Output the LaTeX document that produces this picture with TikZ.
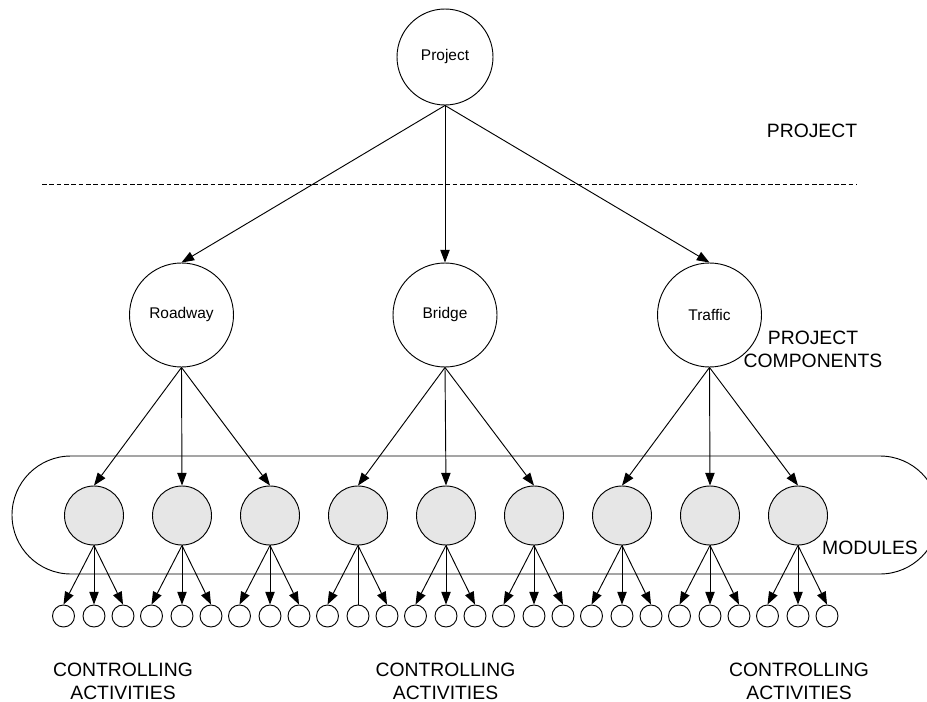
\documentclass[tikz,border=0pt]{standalone}
\usepackage{fontspec}
\setmainfont{Liberation Sans}
\usetikzlibrary{arrows.meta}
\definecolor{modgray}{RGB}{230,230,230}

\begin{document}
\begin{tikzpicture}[x=0.75pt,y=-0.75pt,>={Triangle[length=9.5pt,width=7pt]},line width=0.7pt,
  projnode/.style={draw, circle, inner sep=0pt, minimum size=72pt, font=\fontsize{11.6}{14}\selectfont},
  compnode/.style={draw, circle, inner sep=0pt, minimum size=78pt, font=\fontsize{11.6}{14}\selectfont},
  modnode/.style={draw, circle, fill=modgray, inner sep=0pt, minimum size=44.25pt},
  actnode/.style={draw, circle, inner sep=0pt, minimum size=16.5pt},
  tier/.style={inner sep=0pt, align=center, font=\fontsize{14.5}{17.25}\selectfont}]

  \useasboundingbox (0,0) rectangle (927,702);

%%%%%%%%%%%%%%%%%%%%%%%%%%%%%%%%%%%%%%%%%%
  % Modules band
  \begin{scope}
    \clip (0,0) rectangle (927,702);
    \draw[rounded corners=44.25pt] (12,456) rectangle (939,574);
  \end{scope}

  % Separator
  \draw[dashed, dash pattern=on 3.5pt off 2pt] (42,184) -- (857,184);

  % Project and components
  \node[projnode] (proj) at (445,57) {Project};
  \node[compnode] (road) at (181.5,315) {Roadway};
  \node[compnode] (bridge) at (445,315) {Bridge};
  \node[compnode] (traffic) at (709.5,315) {Traffic};

  % Modules and activities
  \foreach \k in {0,...,8} {
    \node[modnode] (m\k) at ({94+88*\k},515.5) {};
    \node[actnode] (a\k-1) at ({94+88*\k-30.5},616) {};
    \node[actnode] (a\k-2) at ({94+88*\k},616) {};
    \node[actnode] (a\k-3) at ({94+88*\k+29},616) {};
  }

  % Connectors
  \foreach \c in {road,bridge,traffic}
    \draw[->] (proj.south) -- (\c.north);
  \foreach \c/\k in {road/0,road/1,road/2,bridge/3,bridge/4,bridge/5,traffic/6,traffic/7,traffic/8}
    \draw[->] (\c.south) -- (m\k.north);
  \foreach \k/\j in {0/1,0/2,0/3,1/1,1/2,1/3,2/1,2/2,2/3,3/1,3/3,4/1,4/2,4/3,
                     5/1,5/2,5/3,6/1,6/2,6/3,7/1,7/2,7/3,8/1,8/2,8/3}
    \draw[->] (m\k.south) -- (a\k-\j.north);
  \draw (m3.south) -- (a3-2.north);

  % Level labels
  \node[tier] (lproj) at (812,131) {PROJECT};
  \node[tier] (lcomp) at (813,349.5) {PROJECT\\COMPONENTS};
  \node[tier] (lmod) at (870,548) {MODULES};
  \foreach \x [count=\n] in {123,445.5,799}
    \node[tier] (lact\n) at (\x,681) {CONTROLLING\\ACTIVITIES};

\end{tikzpicture}
\end{document}
